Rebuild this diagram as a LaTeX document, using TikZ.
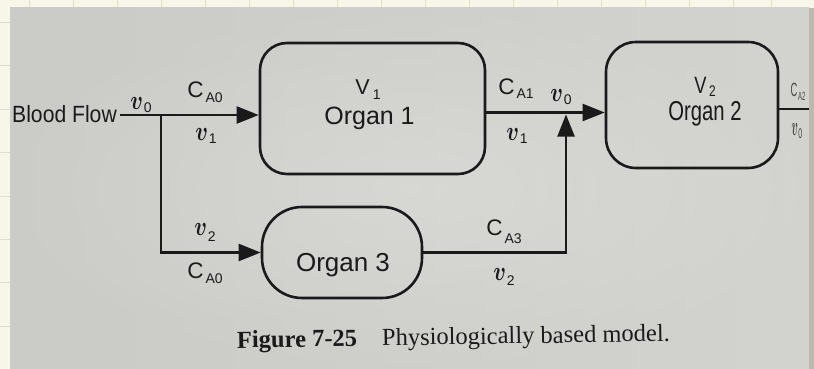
\RequirePackage{fix-cm}
\documentclass[tikz,border=0pt]{standalone}
\usepackage{fontspec}
\setmainfont{Liberation Serif}
\newfontfamily\arialf{Liberation Sans}
\usetikzlibrary{arrows.meta,calc}
\definecolor{ink}{HTML}{1A1A1A}
\definecolor{cream}{HTML}{F8F5E9}
\definecolor{gridc}{HTML}{E3DFCF}
\definecolor{paperA}{HTML}{CBCBC8}
\definecolor{paperB}{HTML}{DBDBD8}
\definecolor{edgec}{HTML}{BDB9B1}
\newcommand{\myC}[2][5pt]{{\arialf\fontsize{22.5}{22.5}\selectfont C}\hspace{2pt}\raisebox{-#1}{\arialf\fontsize{14}{14}\selectfont #2}}
\newcommand{\myV}[2][5pt]{{\arialf\fontsize{21.5}{21.5}\selectfont V}\hspace{3pt}\raisebox{-#1}{\arialf\fontsize{14}{14}\selectfont #2}}
\newcommand{\myv}[2][3pt]{\scalebox{0.78}[1]{\fontsize{27}{27}\selectfont\boldmath$v$}\hspace{1pt}\raisebox{-#1}{\arialf\fontsize{14}{14}\selectfont #2}}
\begin{document}
\begin{tikzpicture}[x=1pt,y=-1pt,
  organ/.style={draw=ink, line width=2.6pt, rounded corners=#1, inner sep=0pt},
  flow/.style={draw=ink, line width=2.2pt, -{Triangle[length=22pt,width=17pt]}},
  lab/.style={inner sep=0pt, anchor=base, text=ink},
  big/.style={lab, font={\arialf\fontsize{25}{25}\selectfont}}
]
\useasboundingbox (0,0) rectangle (814,369);
% background: notebook margin and photographed page
\fill[cream] (0,0) rectangle (814,369);
\foreach \gx in {29,73,117,161,205,249,293,337,381,425,469,513,557,601,645,689,733,771}
  \draw[gridc, line width=1pt] (\gx,0) -- (\gx,8);
\foreach \gy in {23,66,109,152,196,239,282,326}
  \draw[gridc, line width=1pt] (0,\gy) -- (10,\gy);
\shade[left color=paperA, right color=paperB] (10,8) rectangle (809,369);
\shade[inner color=paperB, outer color=paperA, opacity=0.5] (10,8) rectangle (809,369);
\fill[edgec] (809,8) rectangle (814,369);

% organ boxes
\node[organ=27pt, minimum width=225pt, minimum height=131pt] (o1) at (372.5,108.5) {};
\node[organ=30pt, minimum width=172pt, minimum height=126pt] (o2) at (692,105) {};
\node[organ=40pt, minimum width=160pt, minimum height=91pt] (o3) at (342,252.5) {};

\node[lab] (v1t) at (368,95) {\myV{1}};
\node[big] (o1t) at (369.5,124) {Organ 1};
\node[lab] (v2t) at (705,93) {\scalebox{0.85}[1.1]{\myV[3pt]{2}}};
\node[lab] (o2t) at (705,120) {\scalebox{0.78}[1.05]{\arialf\fontsize{26}{26}\selectfont Organ 2}};
\node[big, font={\arialf\fontsize{26}{26}\selectfont}] (o3t) at (343,271) {Organ 3};

% inflow
\node[lab] (bf) at (64.5,122) {\scalebox{0.9}[1]{\arialf\fontsize{23.5}{23.5}\selectfont Blood Flow}};
\coordinate (j) at (161,115);
\coordinate (m) at (566,112.5);
\coordinate (e) at (809,109);

\draw[flow] ([xshift=3pt]bf.east |- j) -- (j -| o1.west);
\draw[flow] (j) |- (o3.west);
\draw[flow] (o1.east |- m) -- (m -| o2.west);
\draw[flow] (o3.east) -| ([yshift=-2pt]m);
\draw[draw=ink, line width=1.3pt] (o2.east |- e) -- (e);

% labels on connectors
\node[lab] (lv0a) at (141,110) {\myv[2pt]{0}};
\node[lab] (lca0a) at (205,98) {\myC{A0}};
\node[lab] (lv1a) at (206,140) {\myv{1}};
\node[lab] (lca1) at (516,95) {\myC[4pt]{A1}};
\node[lab] (lv0b) at (561,102) {\myv[2pt]{0}};
\node[lab] (lv1b) at (517,140) {\myv{1}};
\node[lab] (lv2a) at (205,235) {\myv[6pt]{2}};
\node[lab] (lca0b) at (205,278) {\myC{A0}};
\node[lab] (lca3) at (504,235) {\myC[8pt]{A3}};
\node[lab] (lv2b) at (504,280) {\myv[5pt]{2}};
\node[lab, opacity=0.75] (lca2) at (798,96) {\scalebox{0.42}[0.85]{\myC{A2}}};
\node[lab, opacity=0.75] (lv0c) at (797,135) {\scalebox{0.5}[1]{\myv{0}}};
\fill[edgec] (809,60) rectangle (814,369);

% caption
\node[inner sep=0pt, anchor=base west, text=ink, rotate=0.9, font=\fontsize{24.5}{24.5}\selectfont] (cap) at (237,348)
  {\textbf{Figure 7-25}\hspace{25pt}Physiologically based model.};
\end{tikzpicture}
\end{document}
